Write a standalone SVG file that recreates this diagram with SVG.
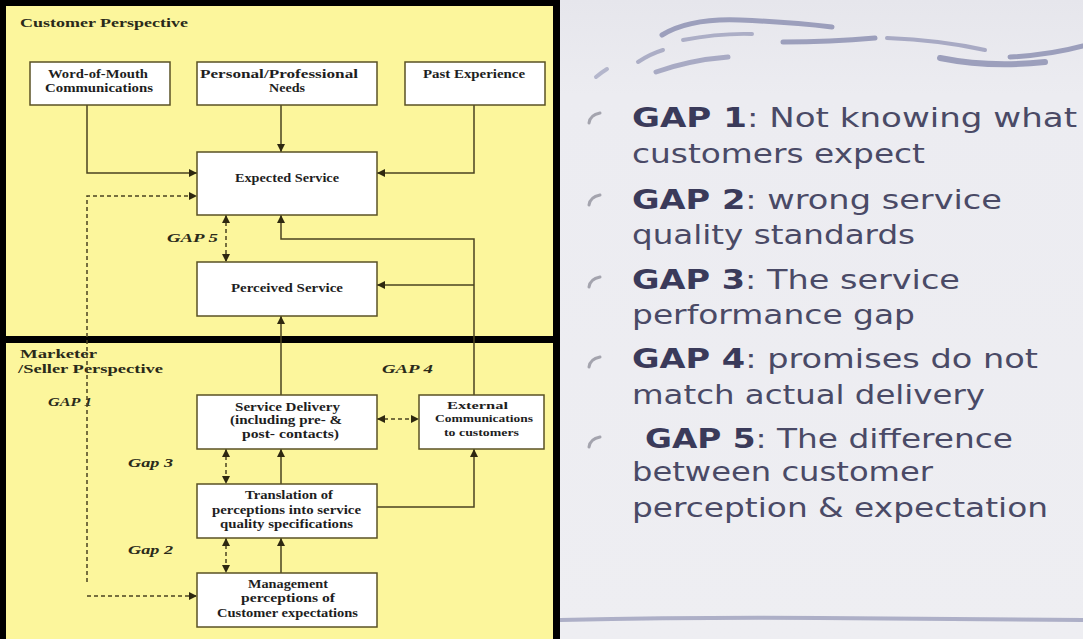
<svg xmlns="http://www.w3.org/2000/svg" width="1083" height="639" viewBox="0 0 1083 639">
<style>
.box{fill:#ffffff;stroke:#5a5225;stroke-width:1.5}
.bt{font-family:"Liberation Serif",serif;font-weight:bold;font-size:12px;fill:#1e1e1e}
.bs{font-family:"Liberation Serif",serif;font-weight:bold;font-size:11px;fill:#1e1e1e}
.hd{font-family:"Liberation Serif",serif;font-weight:bold;font-size:13.5px;fill:#2a2a1a}
.gp{font-family:"Liberation Serif",serif;font-weight:bold;font-style:italic;font-size:13px;fill:#2a2a1a}
.ln{fill:none;stroke:#4a4320;stroke-width:1.5}
.dl{fill:none;stroke:#4a4320;stroke-width:1.5;stroke-dasharray:4 3}
.rt{font-family:"DejaVu Sans","Verdana",sans-serif;font-size:26px;fill:#4a4a66}
.rb{font-weight:bold;fill:#3a3a5a}
.sw{fill:none;stroke:#9c9fbc;stroke-linecap:round}
.bul{fill:none;stroke:#a4a4ae;stroke-width:3;stroke-linecap:round}
</style>
<defs>
<marker id="ah" viewBox="0 0 10 10" refX="10" refY="5" markerWidth="8" markerHeight="8" markerUnits="userSpaceOnUse" orient="auto-start-reverse">
<path d="M0,0 L10,5 L0,10 z" fill="#2e2810"/>
</marker>
<linearGradient id="rbg" x1="0" y1="0" x2="0" y2="1">
<stop offset="0" stop-color="#e6e6ec"/>
<stop offset="0.15" stop-color="#ececf1"/>
<stop offset="1" stop-color="#eeeef2"/>
</linearGradient>
</defs>

<!-- right panel -->
<g id="right-panel">
<rect x="556" y="0" width="527" height="639" fill="url(#rbg)"/>
<path class="sw" stroke-width="5" d="M662,35 Q690,18 740,20 T832,27"/>
<path class="sw" stroke-width="4" opacity="0.8" d="M683,40 Q720,33 752,34"/>
<path class="sw" stroke-width="5" d="M783,42 Q830,42 875,38"/>
<path class="sw" stroke-width="4" opacity="0.85" d="M887,38 Q940,40 985,50"/>
<path class="sw" stroke-width="6" d="M940,58 Q990,68 1045,62"/>
<path class="sw" stroke-width="5" d="M1010,57 Q1050,55 1083,46"/>
<path class="sw" stroke-width="4" opacity="0.8" d="M638,62 Q650,54 663,50"/>
<path class="sw" stroke-width="5" opacity="0.85" d="M656,72 Q690,60 728,57"/>
<path class="sw" stroke-width="4" opacity="0.7" d="M596,77 Q602,72 607,69"/>
<path class="sw" stroke-width="4" opacity="0.8" d="M560,620 Q700,617 820,618 T1083,620"/>
<g id="bullets">
<path class="bul" d="M589,123 Q590,115 600,113"/>
<path class="bul" d="M589,205 Q590,197 600,195"/>
<path class="bul" d="M589,287 Q590,279 600,277"/>
<path class="bul" d="M589,367 Q590,359 600,357"/>
<path class="bul" d="M589,447 Q590,439 600,437"/>
</g>
<g id="gap-text">
<text class="rt" x="632" y="127" textLength="445" lengthAdjust="spacingAndGlyphs"><tspan class="rb">GAP 1</tspan>: Not knowing what</text>
<text class="rt" x="632" y="163" textLength="293" lengthAdjust="spacingAndGlyphs">customers expect</text>
<text class="rt" x="632" y="209" textLength="370" lengthAdjust="spacingAndGlyphs"><tspan class="rb">GAP 2</tspan>: wrong service</text>
<text class="rt" x="632" y="244" textLength="283" lengthAdjust="spacingAndGlyphs">quality standards</text>
<text class="rt" x="632" y="289" textLength="328" lengthAdjust="spacingAndGlyphs"><tspan class="rb">GAP 3</tspan>: The service</text>
<text class="rt" x="632" y="324" textLength="283" lengthAdjust="spacingAndGlyphs">performance gap</text>
<text class="rt" x="632" y="368" textLength="406" lengthAdjust="spacingAndGlyphs"><tspan class="rb">GAP 4</tspan>: promises do not</text>
<text class="rt" x="632" y="404" textLength="353" lengthAdjust="spacingAndGlyphs">match actual delivery</text>
<text class="rt" x="645" y="448" textLength="368" lengthAdjust="spacingAndGlyphs"><tspan class="rb">GAP 5</tspan>: The difference</text>
<text class="rt" x="632" y="481" textLength="301" lengthAdjust="spacingAndGlyphs">between customer</text>
<text class="rt" x="632" y="517" textLength="416" lengthAdjust="spacingAndGlyphs">perception &amp; expectation</text>
</g>
</g>

<!-- left panel -->
<g id="left-panel">
<rect x="0" y="0" width="560" height="639" fill="#fcf69c"/>
<rect x="0" y="0" width="560" height="6" fill="#000"/>
<rect x="0" y="0" width="6" height="639" fill="#000"/>
<rect x="553" y="0" width="7" height="639" fill="#000"/>
<rect x="0" y="336" width="560" height="7" fill="#000"/>
<text class="hd" x="20" y="27" textLength="168" lengthAdjust="spacingAndGlyphs">Customer Perspective</text>
<text class="hd" x="20" y="358" textLength="77" lengthAdjust="spacingAndGlyphs">Marketer</text>
<text class="hd" x="18" y="373" textLength="145" lengthAdjust="spacingAndGlyphs">/Seller Perspective</text>
<text class="gp" x="167" y="242" textLength="51" lengthAdjust="spacingAndGlyphs">GAP 5</text>
<text class="gp" x="48" y="406" textLength="44" lengthAdjust="spacingAndGlyphs">GAP 1</text>
<text class="gp" x="382" y="373" textLength="51" lengthAdjust="spacingAndGlyphs">GAP 4</text>
<text class="gp" x="128" y="467" textLength="45" lengthAdjust="spacingAndGlyphs">Gap 3</text>
<text class="gp" x="128" y="554" textLength="45" lengthAdjust="spacingAndGlyphs">Gap 2</text>
</g>

<g id="connectors">
<path class="ln" d="M87,105 V173 H197" marker-end="url(#ah)"/>
<path class="ln" d="M281,105 V152" marker-end="url(#ah)"/>
<path class="ln" d="M474,105 V173 H377" marker-end="url(#ah)"/>
<path class="dl" d="M87,582 V196 H197" marker-end="url(#ah)"/>
<path class="dl" d="M87,596 H197" marker-end="url(#ah)"/>
<path class="dl" d="M226,215 V262" marker-start="url(#ah)" marker-end="url(#ah)"/>
<path class="ln" d="M474,395 V239 H281 V215" marker-end="url(#ah)"/>
<path class="ln" d="M474,285 H377" marker-end="url(#ah)"/>
<path class="ln" d="M281,395 V316" marker-end="url(#ah)"/>
<path class="dl" d="M377,419 H419" marker-start="url(#ah)" marker-end="url(#ah)"/>
<path class="dl" d="M226,449 V484" marker-start="url(#ah)" marker-end="url(#ah)"/>
<path class="ln" d="M281,484 V449" marker-end="url(#ah)"/>
<path class="ln" d="M377,507 H474 V449" marker-end="url(#ah)"/>
<path class="dl" d="M226,538 V573" marker-start="url(#ah)" marker-end="url(#ah)"/>
<path class="ln" d="M281,573 V538" marker-end="url(#ah)"/>
</g>

<g id="word-of-mouth">
<rect class="box" x="30" y="62" width="140" height="43"/>
<text class="bt" x="48" y="78" textLength="100" lengthAdjust="spacingAndGlyphs">Word-of-Mouth</text>
<text class="bt" x="45" y="92" textLength="108" lengthAdjust="spacingAndGlyphs">Communications</text>
</g>
<g id="personal-needs">
<rect class="box" x="197" y="62" width="180" height="43"/>
<text class="bt" x="200" y="78" textLength="158" lengthAdjust="spacingAndGlyphs">Personal/Professional</text>
<text class="bt" x="269" y="92" textLength="36" lengthAdjust="spacingAndGlyphs">Needs</text>
</g>
<g id="past-experience">
<rect class="box" x="405" y="62" width="140" height="43"/>
<text class="bt" x="423" y="78" textLength="102" lengthAdjust="spacingAndGlyphs">Past Experience</text>
</g>
<g id="expected-service">
<rect class="box" x="197" y="152" width="180" height="63"/>
<text class="bt" x="235" y="182" textLength="104" lengthAdjust="spacingAndGlyphs">Expected Service</text>
</g>
<g id="perceived-service">
<rect class="box" x="197" y="262" width="180" height="54"/>
<text class="bt" x="231" y="292" textLength="112" lengthAdjust="spacingAndGlyphs">Perceived Service</text>
</g>
<g id="service-delivery">
<rect class="box" x="197" y="395" width="180" height="54"/>
<text class="bt" x="235" y="411" textLength="105" lengthAdjust="spacingAndGlyphs">Service Delivery</text>
<text class="bt" x="230" y="424" textLength="112" lengthAdjust="spacingAndGlyphs">(including pre- &amp;</text>
<text class="bt" x="242" y="438" textLength="97" lengthAdjust="spacingAndGlyphs">post- contacts)</text>
</g>
<g id="external-communications">
<rect class="box" x="419" y="395" width="125" height="54"/>
<text class="bs" x="447" y="409" textLength="61" lengthAdjust="spacingAndGlyphs">External</text>
<text class="bs" x="435" y="422" textLength="98" lengthAdjust="spacingAndGlyphs">Communications</text>
<text class="bs" x="444" y="436" textLength="75" lengthAdjust="spacingAndGlyphs">to customers</text>
</g>
<g id="translation">
<rect class="box" x="197" y="484" width="180" height="54"/>
<text class="bt" x="245" y="499" textLength="88" lengthAdjust="spacingAndGlyphs">Translation of</text>
<text class="bt" x="212" y="514" textLength="149" lengthAdjust="spacingAndGlyphs">perceptions into service</text>
<text class="bt" x="220" y="528" textLength="133" lengthAdjust="spacingAndGlyphs">quality specifications</text>
</g>
<g id="management">
<rect class="box" x="197" y="573" width="180" height="54"/>
<text class="bt" x="248" y="588" textLength="80" lengthAdjust="spacingAndGlyphs">Management</text>
<text class="bt" x="241" y="602" textLength="94" lengthAdjust="spacingAndGlyphs">perceptions of</text>
<text class="bt" x="217" y="617" textLength="141" lengthAdjust="spacingAndGlyphs">Customer expectations</text>
</g>
</svg>
